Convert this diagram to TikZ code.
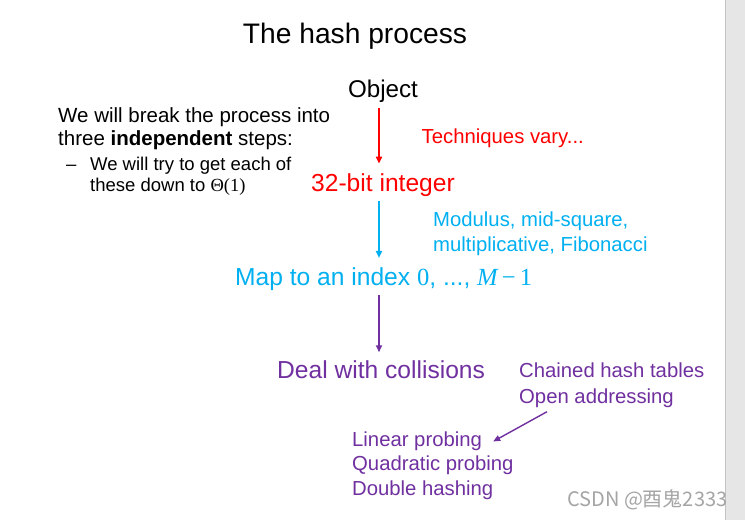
\documentclass[tikz,border=0pt]{standalone}
\usepackage{fontspec}
\setmainfont{Liberation Sans}
\newfontfamily\serifmath{Liberation Serif}
\newfontfamily\cjkfont{Noto Sans CJK SC}
\usetikzlibrary{arrows.meta}

\definecolor{hashred}{RGB}{255,0,0}
\definecolor{hashblue}{RGB}{0,176,240}
\definecolor{hashpurple}{RGB}{112,48,160}
\definecolor{stripgray}{RGB}{230,230,230}
\definecolor{stripline}{RGB}{195,195,195}
\definecolor{markgray}{RGB}{165,165,165}

\begin{document}
\begin{tikzpicture}[x=1pt,y=-1pt]
\tikzstyle{txt}=[anchor=base west, inner sep=0pt]
\tikzstyle{ctr}=[anchor=base, inner sep=0pt]
\tikzstyle{big}=[font=\fontsize{24.6}{29}\selectfont]
\tikzstyle{small}=[font=\fontsize{20.3}{24}\selectfont]
\tikzstyle{note}=[font=\fontsize{18.5}{22}\selectfont]
\tikzstyle{flow}=[-{Triangle[length=7pt,width=6pt]}, line width=1.7pt]

\useasboundingbox (0,0) rectangle (745,520);
\fill[white] (0,0) rectangle (725,520);
\fill[stripgray] (725,0) rectangle (745,520);
\draw[stripline, line width=1pt] (725.5,0) -- (725.5,520);

% title and left-hand remarks
\draw (355,43.5) node[ctr, font=\fontsize{28.2}{32}\selectfont] (title) {The hash process};
\draw (58,122.3) node[txt, font=\fontsize{20.5}{24}\selectfont] (intro1) {We will break the process into};
\draw (58,145) node[txt, font=\fontsize{20.5}{24}\selectfont] (intro2) {three \textbf{independent} steps:};
\draw (66,170) node[txt, note] (dash) {–};
\draw (90,170) node[txt, note] (goal1) {We will try to get each of};
\draw (90,191.7) node[txt, note] (goal2) {these down to {\serifmath Θ(1)}};

% the steps
\draw (383,97) node[ctr, font=\fontsize{24.2}{28}\selectfont] (obj) {Object};
\draw (311,191.7) node[txt, big, text=hashred] (int) {32-bit integer};
\draw (235,285) node[txt, big, text=hashblue] (map) {Map to an index {\serifmath 0}, ..., {\serifmath\itshape M}\,{\serifmath −}\,{\serifmath 1}};
\draw (277,378.3) node[txt, big, text=hashpurple] (deal) {Deal with collisions};

\draw (421.5,143.3) node[txt, small, text=hashred] (vary) {Techniques vary...};
\draw (433,226.7) node[txt, small, text=hashblue] (mod1) {Modulus, mid-square,};
\draw (433,251.7) node[txt, small, text=hashblue] (mod2) {multiplicative, Fibonacci};
\draw (519,377.5) node[txt, small, text=hashpurple] (chain) {Chained hash tables};
\draw (519,403.3) node[txt, small, text=hashpurple] (open) {Open addressing};
\draw (352,446.7) node[txt, small, text=hashpurple] (lin) {Linear probing};
\draw (352,470.7) node[txt, small, text=hashpurple] (quad) {Quadratic probing};
\draw (352,495) node[txt, small, text=hashpurple] (dbl) {Double hashing};

\draw[flow, hashred, shorten <=6pt, shorten >=10pt] ([xshift=-4pt]obj.south) -- ([xshift=-4pt]obj.south |- int.north);
\draw[flow, hashblue, shorten <=4pt, shorten >=9pt] ([xshift=-4pt]obj.south |- int.south) -- ([xshift=-4pt]obj.south |- map.north);
\draw[flow, hashpurple, shorten <=5pt, shorten >=8pt] ([xshift=-4pt]obj.south |- map.south) -- ([xshift=-4pt]obj.south |- deal.north);
\draw[flow, hashpurple, line width=1.4pt] ([xshift=28pt,yshift=-4pt]open.south west) -- ([xshift=11pt]lin.east);

% watermark
\draw (567,506.7) node[txt, text=markgray, font=\cjkfont\fontsize{20}{24}\selectfont] (mark) {CSDN @酉鬼2333};
\end{tikzpicture}
\end{document}
